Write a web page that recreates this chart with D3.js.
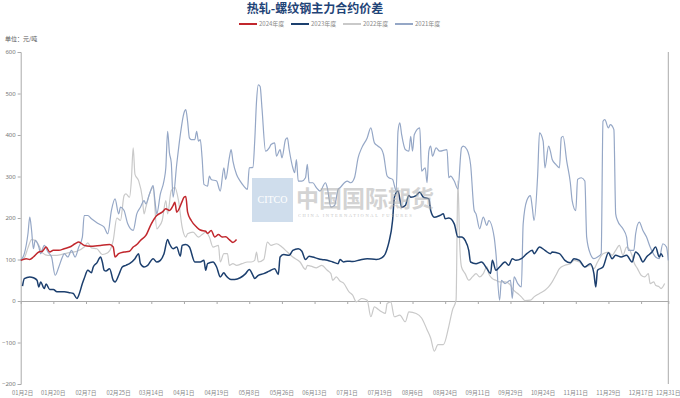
<!DOCTYPE html>
<html>
<head>
<meta charset="utf-8">
<script src="https://cdn.jsdelivr.net/npm/d3@7/dist/d3.min.js"></script>
<style>
  body { margin: 0; background: #fff; }
  #chart { width: 680px; height: 398px; }
  text { font-family: "Noto Sans CJK SC", "Noto Sans", sans-serif; }
</style>
</head>
<body>
<div id="chart"></div>
<script>
// [交易日序号, 价差]
const s2024 = [[0,98],[3,102],[5,100],[7,106],[10,118],[12,120],[14,130],[16,118],[18,122],[21,122],[24,126],[27,130],[30,138],[32,142],[35,134],[38,132],[44,134],[49,136],[51,130],[52,106],[54,114],[57,118],[60,120],[62,130],[64,136],[66,146],[69,158],[72,186],[75,206],[78,214],[80,222],[82,218],[84,230],[85,238],[86,214],[89,240],[90,250],[91,252],[92,214],[94,194],[97,178],[99,171],[102,168],[103,163],[105,170],[107,154],[109,160],[111,154],[113,155],[115,148],[117,141],[119,148]];

const s2023 = [[1,36],[2,54],[5,58],[7,56],[9,50],[10,34],[11,46],[13,30],[14,41],[16,28],[18,28],[20,22],[24,22],[27,20],[29,18],[31,6],[32,14],[34,42],[35,54],[37,74],[39,68],[40,82],[42,92],[44,106],[45,94],[46,74],[47,72],[49,78],[51,50],[52,46],[54,62],[56,82],[58,86],[60,90],[63,102],[65,114],[66,90],[68,82],[70,86],[73,102],[75,94],[77,98],[79,114],[81,148],[82,138],[84,126],[86,130],[88,108],[89,134],[91,136],[93,130],[96,94],[99,94],[101,98],[102,74],[103,90],[106,94],[108,82],[110,58],[112,68],[113,62],[116,52],[118,52],[121,56],[124,66],[126,76],[128,62],[129,54],[131,62],[134,66],[137,72],[140,78],[142,64],[143,106],[145,112],[148,110],[150,122],[153,126],[155,120],[157,100],[159,108],[161,106],[164,102],[166,100],[169,98],[172,94],[175,90],[176,100],[178,94],[180,96],[183,95],[187,99],[191,102],[196,100],[199,104],[201,114],[202,126],[203,142],[205,194],[206,250],[208,265],[210,226],[212,230],[214,254],[215,250],[218,254],[220,262],[222,250],[225,246],[226,218],[228,202],[231,206],[233,210],[234,198],[236,200],[239,186],[241,154],[243,154],[245,146],[247,122],[248,94],[251,90],[254,94],[257,78],[259,66],[260,98],[262,74],[264,82],[267,94],[269,86],[271,102],[273,98],[276,102],[279,114],[282,122],[283,114],[286,130],[289,122],[292,114],[293,118],[297,114],[300,98],[303,92],[305,102],[308,98],[311,82],[314,90],[316,66],[317,34],[318,74],[321,82],[324,116],[326,102],[328,110],[331,106],[334,110],[337,94],[339,118],[341,110],[343,94],[345,106],[348,118],[350,130],[352,106],[353,114],[354,106]];

const s2022 = [[0,98],[2,104],[4,128],[6,148],[8,146],[10,134],[12,116],[15,110],[20,110],[26,116],[31,120],[35,130],[37,140],[39,128],[42,126],[45,112],[48,116],[50,130],[51,146],[53,200],[55,194],[57,254],[58,258],[60,250],[61,290],[62,369],[63,305],[65,290],[67,250],[68,210],[69,226],[71,258],[73,274],[75,174],[76,178],[78,194],[80,242],[81,210],[83,266],[85,274],[87,242],[89,178],[91,154],[92,162],[95,166],[98,154],[100,160],[102,166],[104,154],[106,130],[109,134],[110,94],[112,114],[114,114],[115,86],[117,90],[119,86],[122,90],[125,94],[127,94],[129,98],[130,118],[131,94],[134,100],[136,142],[138,134],[141,138],[144,130],[147,118],[150,106],[154,94],[157,76],[158,86],[160,84],[163,80],[166,86],[169,74],[171,66],[172,50],[174,58],[176,48],[178,43],[181,22],[183,14],[185,-2],[188,6],[191,2],[193,-38],[195,-14],[197,-20],[199,-26],[201,-30],[202,-6],[204,-2],[206,-38],[209,-34],[212,-50],[214,-26],[218,-30],[221,-41],[224,-69],[226,-89],[228,-121],[230,-105],[233,-105],[236,-61],[238,-22],[240,2],[241,290],[242,138],[243,82],[245,66],[247,50],[249,58],[251,66],[253,58],[255,66],[257,82],[258,66],[260,54],[262,50],[264,46],[267,46],[270,38],[271,30],[274,18],[276,10],[278,1],[281,2],[283,10],[286,18],[289,26],[291,34],[293,46],[295,62],[297,78],[300,86],[303,90],[305,98],[308,94],[311,82],[314,86],[316,78],[318,94],[321,114],[324,118],[326,110],[328,122],[330,134],[332,110],[334,130],[337,110],[338,94],[340,78],[342,62],[344,58],[346,66],[347,42],[349,46],[350,38],[352,34],[353,30],[355,42]];

const s2021 = [[0,98],[2,114],[4,162],[5,202],[6,170],[7,126],[8,146],[10,130],[11,114],[13,134],[15,118],[17,106],[19,62],[21,82],[23,106],[24,114],[26,106],[28,122],[30,106],[32,130],[34,154],[35,206],[37,206],[39,198],[43,186],[46,178],[48,162],[50,218],[52,246],[54,210],[55,226],[57,218],[58,202],[59,186],[62,170],[64,210],[66,226],[68,242],[69,234],[71,258],[73,278],[74,242],[75,210],[77,258],[79,290],[80,321],[81,409],[82,357],[83,333],[84,250],[86,329],[88,401],[90,453],[91,461],[92,433],[93,393],[94,389],[96,389],[97,409],[98,385],[99,389],[100,345],[101,281],[103,277],[104,301],[105,293],[108,289],[110,265],[112,321],[113,293],[115,345],[116,365],[117,337],[119,305],[121,289],[123,277],[125,269],[126,321],[128,322],[129,385],[130,481],[131,521],[132,517],[133,465],[135,361],[137,369],[138,377],[140,381],[141,349],[143,365],[144,345],[146,389],[147,393],[148,365],[150,321],[151,309],[152,341],[153,289],[155,289],[157,297],[158,329],[159,285],[161,285],[163,273],[165,265],[168,285],[169,273],[171,226],[173,230],[175,269],[176,273],[180,289],[182,285],[184,297],[186,345],[188,369],[191,393],[193,417],[195,381],[197,373],[199,365],[200,353],[202,301],[203,297],[205,293],[207,265],[208,409],[209,429],[210,401],[212,365],[214,361],[215,397],[216,361],[217,401],[220,417],[221,313],[223,321],[224,285],[225,361],[226,373],[227,349],[229,369],[231,361],[235,365],[236,297],[237,301],[239,289],[241,270],[243,369],[244,373],[246,365],[248,329],[250,218],[251,210],[253,174],[255,202],[257,182],[258,194],[261,154],[262,114],[264,2],[265,50],[267,42],[270,50],[271,6],[272,58],[274,42],[276,34],[277,186],[279,242],[281,254],[282,226],[283,194],[285,305],[286,405],[288,385],[289,321],[291,373],[292,361],[293,341],[295,329],[297,321],[298,393],[299,397],[301,337],[303,285],[304,242],[306,218],[307,293],[309,297],[311,289],[312,154],[314,114],[316,102],[318,106],[320,114],[321,433],[322,437],[324,417],[325,425],[327,413],[328,210],[329,194],[332,174],[334,154],[335,122],[338,122],[339,162],[341,190],[343,170],[345,154],[347,130],[350,106],[352,102],[354,138],[356,130],[357,98]];

const seriesNames = ["2024年度", "2023年度", "2022年度", "2021年度"];
const tickIdx = [0,18,36,54,72,90,108,126,144,162,180,198,216,234,252,270,288,306,324,342,357];
const tickLabels = ["01月2日","01月20日","02月7日","02月25日","03月14日","04月1日","04月19日","05月8日","05月26日","06月13日","07月1日","07月19日","08月6日","08月24日","09月11日","09月29日","10月24日","11月11日","11月29日","12月17日","12月31日"];
const yTicks = [-200,-100,0,100,200,300,400,500,600];

const width = 680, height = 398;
const plotLeft = 20.7, plotRight = 668.3, plotTop = 52, plotBottom = 384;

const svg = d3.select("#chart").append("svg")
    .attr("width", width)
    .attr("height", height);

const x = d3.scaleLinear().domain([0, 357]).range([plotLeft, plotRight]);
const y = d3.scaleLinear().domain([-200, 600]).range([plotBottom, plotTop]);

// title
svg.append("text")
    .attr("x", 315).attr("y", 13)
    .attr("text-anchor", "middle")
    .attr("font-size", 12).attr("font-weight", "bold")
    .attr("fill", "#1f4477")
    .text("热轧-螺纹钢主力合约价差");

// unit
svg.append("text")
    .attr("x", 5).attr("y", 41)
    .attr("font-size", 6).attr("fill", "#555")
    .text("单位：元/吨");

// y axis (left)
const yAxis = svg.append("g")
    .attr("transform", `translate(${plotLeft},0)`)
    .call(d3.axisLeft(y).tickValues(yTicks).tickSize(3).tickPadding(2));
yAxis.select(".domain").attr("stroke", "#aaa");
yAxis.selectAll(".tick line").attr("stroke", "#aaa");
yAxis.selectAll(".tick text").attr("font-size", 6).attr("fill", "#777")
    .style("font-family", "'Noto Sans', sans-serif");

// right border line
svg.append("line")
    .attr("x1", plotRight).attr("x2", plotRight)
    .attr("y1", plotTop).attr("y2", plotBottom)
    .attr("stroke", "#aaa");

// x axis on zero line
const xAxis = svg.append("g")
    .attr("transform", `translate(0,${y(0)})`)
    .call(d3.axisBottom(x).tickValues(tickIdx).tickSize(3).tickSizeOuter(0).tickFormat(""));
xAxis.select(".domain").attr("stroke", "#aaa");
xAxis.selectAll(".tick line").attr("stroke", "#aaa");

// x tick labels at bottom
svg.append("g").selectAll("text")
    .data(tickIdx)
    .enter().append("text")
    .attr("x", (d, i) => i === 0 ? x(d) + 2 : x(d))
    .attr("y", plotBottom + 10.5)
    .attr("text-anchor", "middle")
    .attr("font-size", 5.8)
    .attr("fill", "#888")
    .text((d, i) => tickLabels[i]);

const line = d3.line()
    .x(d => x(d[0]))
    .y(d => y(d[1]))
    .curve(d3.curveMonotoneX);

const styles = [
    { data: s2022, color: "#c9c9c9", w: 1.2 },
    { data: s2021, color: "#95a7c6", w: 1.2 },
    { data: s2023, color: "#1c3f6e", w: 1.5 },
    { data: s2024, color: "#c1272d", w: 1.5 }
];

svg.append("g").selectAll("path")
    .data(styles)
    .enter().append("path")
    .attr("d", d => line(d.data))
    .attr("fill", "none")
    .attr("stroke", d => d.color)
    .attr("stroke-width", d => d.w)
    .attr("stroke-linejoin", "round");

// legend
const legendColors = ["#c1272d", "#1c3f6e", "#c9c9c9", "#95a7c6"];
const legendX = [239, 291, 343, 395];
const legend = svg.append("g").selectAll("g")
    .data(seriesNames)
    .enter().append("g")
    .attr("transform", (d, i) => `translate(${legendX[i]},24)`);
legend.append("line")
    .attr("x1", 0).attr("x2", 18)
    .attr("stroke", (d, i) => legendColors[i])
    .attr("stroke-width", 2);
legend.append("text")
    .attr("x", 20).attr("y", 2)
    .attr("font-size", 6).attr("fill", "#888")
    .text(d => d);

// watermark
const wm = svg.append("g").attr("pointer-events", "none");
wm.append("rect")
    .attr("x", 252).attr("y", 178)
    .attr("width", 41).attr("height", 44)
    .attr("fill", "#bfd1e6").attr("opacity", 0.75);
wm.append("text")
    .attr("x", 272.5).attr("y", 203)
    .attr("text-anchor", "middle")
    .attr("font-size", 10)
    .attr("fill", "#fff")
    .style("font-family", "'Liberation Serif', serif")
    .text("CITCO");
wm.append("text")
    .attr("x", 296).attr("y", 207)
    .attr("font-size", 23).attr("font-weight", "bold")
    .attr("fill", "#b0b0b0").attr("opacity", 0.55)
    .text("中国国际期货");
wm.append("text")
    .attr("x", 298).attr("y", 217)
    .attr("font-size", 4.5)
    .attr("letter-spacing", 1.6)
    .attr("fill", "#b0b0b0").attr("opacity", 0.7)
    .style("font-family", "'Liberation Serif', serif")
    .text("CHINA INTERNATIONAL FUTURES");
</script>
</body>
</html>
